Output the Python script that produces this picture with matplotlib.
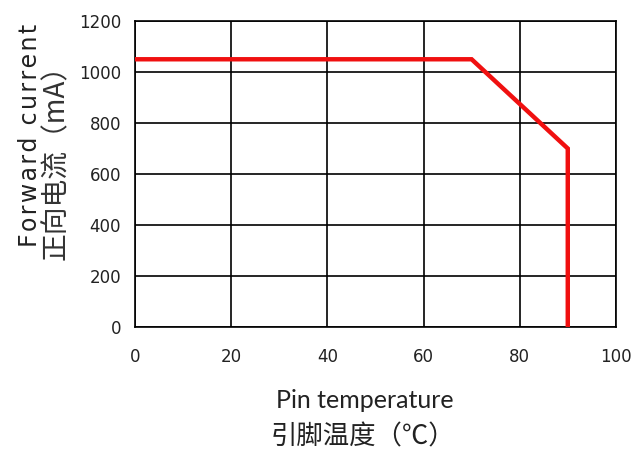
import matplotlib
matplotlib.use("Agg")
import matplotlib.pyplot as plt

# =========================
# DATA
# =========================
temp_c = [0, 70, 90, 90]
current_ma = [1050, 1050, 700, 0]

x_ticks = [0, 20, 40, 60, 80, 100]
y_ticks = [0, 200, 400, 600, 800, 1000, 1200]

CJK = ["Noto Sans CJK SC", "DejaVu Sans"]
NARROW = ["Liberation Sans Narrow", "DejaVu Sans"]


def spaced(txt, sep="\u200a"):
    # letter-spaced text, like the original label
    return "\u2009 ".join(sep.join(w) for w in txt.split(" "))


# =========================
# PLOT
# =========================
fig = plt.figure(figsize=(6.31, 4.57), dpi=100)
ax = fig.add_axes([0.214, 0.2845, 0.762, 0.6695])

ax.plot(temp_c, current_ma, color="#f01010", linewidth=3.2,
        solid_joinstyle="miter", zorder=3)

ax.set_xlim(0, 100)
ax.set_ylim(0, 1200)
ax.set_xticks(x_ticks)
ax.set_yticks(y_ticks)
ax.grid(True, color="black", linewidth=1.2)
for s in ax.spines.values():
    s.set_color("black")
    s.set_linewidth(1.2)

ax.tick_params(length=0, labelsize=12, colors="#222222")
ax.tick_params(axis="x", pad=15)
ax.tick_params(axis="y", pad=10)
for lab in ax.get_xticklabels() + ax.get_yticklabels():
    lab.set_family(NARROW)

# y label (two lines)
fig.text(0.047, 0.703, spaced("Forward current"), rotation=90, ha="center",
         va="center", fontsize=17, family=["DejaVu Sans"], color="#222222")
fig.text(0.088, 0.66, "正向电流（mA）", rotation=90, ha="center", va="center",
         fontsize=20, family=CJK, color="#333333")

# x label (two lines)
fig.text(0.578, 0.123, "Pin temperature", ha="center", va="center",
         fontsize=18, family=["Lato", "DejaVu Sans"], color="#222222")
fig.text(0.575, 0.044, "引脚温度（℃）", ha="center", va="center",
         fontsize=19, family=CJK, color="#222222")

fig.savefig("out.png", dpi=100)
plt.close(fig)
